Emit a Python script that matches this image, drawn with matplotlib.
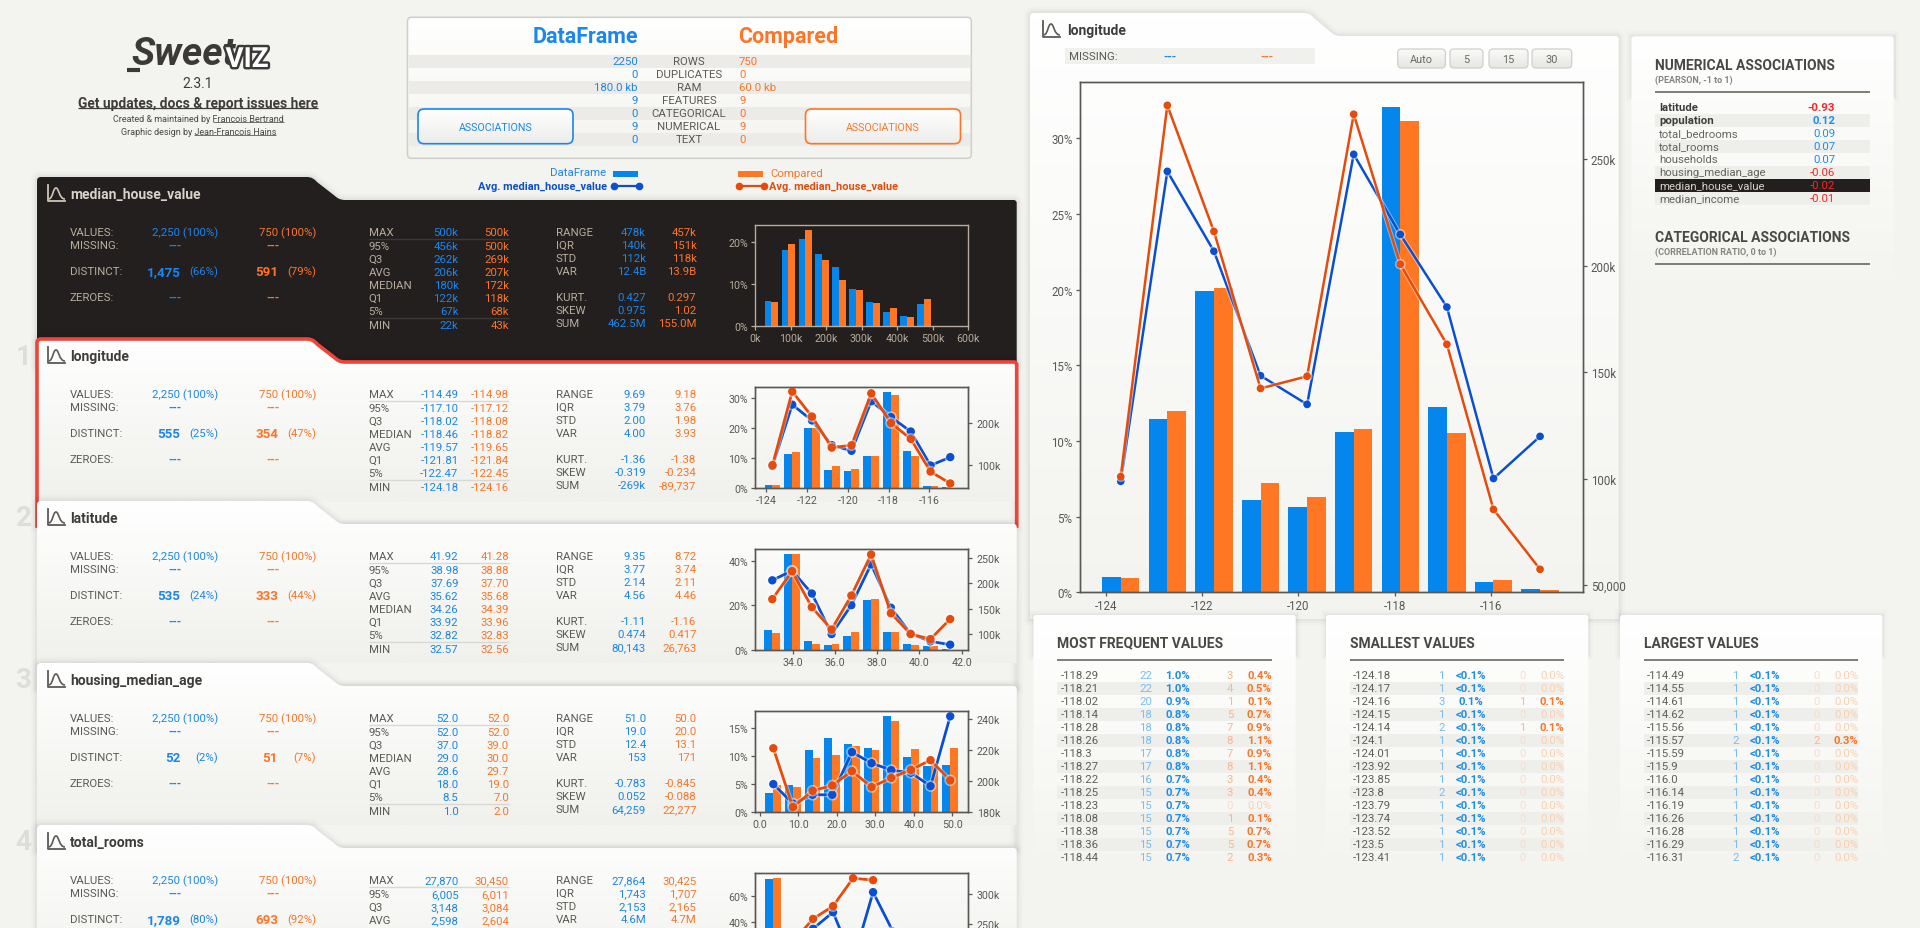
import numpy as np
import matplotlib
matplotlib.use("Agg")
import matplotlib.pyplot as plt
import matplotlib.patheffects as pe
from matplotlib.colors import LinearSegmentedColormap
from matplotlib.patches import FancyBboxPatch, PathPatch, Rectangle
from matplotlib.path import Path

FONT = ["Roboto", "DejaVu Sans"]
plt.rcParams["font.family"] = FONT

BG = "#f3f3ef"
BLUE = "#0586ec"
ORANGE = "#ff7722"
TXT_BLUE = "#1a86ee"
TXT_ORANGE = "#ff7426"
LINE_BLUE = "#0a4fd0"
LINE_ORANGE = "#e84a0a"
GREY = "#5c5a56"
DARK = "#221f1e"
TAN = "#b8ad9d"

# resumen de arriba
SUMMARY_LABELS = ["ROWS", "DUPLICATES", "RAM", "FEATURES", "CATEGORICAL", "NUMERICAL", "TEXT"]
SUMMARY_BLUE = ["2250", "0", "180.0 kb", "9", "0", "9", "0"]
SUMMARY_ORANGE = ["750", "0", "60.0 kb", "9", "0", "9", "0"]

# histogramas
HOUSE_RANGE = (22, 500)
HOUSE_BLUE = [5.96, 18.0, 20.5, 17.0, 14.0, 8.8, 5.7, 3.4, 2.4, 5.3]
HOUSE_ORANGE = [5.7, 19.4, 22.7, 15.6, 10.9, 8.5, 5.5, 4.3, 2.2, 6.4]

LON_RANGE = (-124.18, -114.49)
LON_BLUE = [1.01, 11.45, 19.9, 6.1, 5.64, 10.6, 32.1, 12.25, 0.68, 0.22]
LON_ORANGE = [0.95, 12.0, 20.1, 7.22, 6.3, 10.8, 31.15, 10.53, 0.81, 0.15]
LON_AVG_BLUE = [98.7, 244.2, 206.7, 148.3, 134.8, 252.2, 214.6, 180.5, 100.0, 119.8]
LON_AVG_ORANGE = [100.9, 275.2, 216.0, 142.3, 148.0, 271.0, 200.6, 163.0, 85.5, 57.4]

LAT_RANGE = (32.57, 41.92)
LAT_BLUE = [9.1, 43.1, 4.2, 2.4, 6.4, 22.5, 8.2, 2.8, 1.9, 0.6]
LAT_ORANGE = [7.8, 43.1, 2.8, 2.8, 8.2, 23.0, 8.2, 2.4, 1.9, 0.0]
LAT_AVG_BLUE = [206.0, 225.0, 180.0, 100.0, 157.0, 237.6, 152.0, 100.6, 85.6, 79.0]
LAT_AVG_ORANGE = [168.8, 223.8, 153.0, 109.0, 176.0, 257.0, 141.0, 100.0, 90.0, 129.5]

AGE_RANGE = (1, 52)
AGE_BLUE = [3.45, 4.9, 11.1, 13.3, 12.2, 11.5, 17.2, 9.9, 8.3, 8.45]
AGE_ORANGE = [4.9, 4.5, 9.7, 10.2, 11.85, 11.1, 16.3, 11.3, 8.8, 11.5]
AGE_AVG_BLUE = [198.0, 185.4, 191.1, 191.1, 218.6, 211.5, 207.0, 205.3, 196.7, 241.7]
AGE_AVG_ORANGE = [221.1, 183.2, 193.7, 197.1, 206.4, 196.1, 202.0, 207.2, 213.4, 200.4]

ROOMS_RANGE = (6, 27870)
ROOMS_BLUE = [73.3, 21.0, 3.6, 1.2, 0.4, 0.2, 0.1, 0.05, 0.05, 0.05]
ROOMS_ORANGE = [74.1, 20.5, 3.4, 1.0, 0.5, 0.2, 0.1, 0.1, 0.0, 0.0]
ROOMS_AVG_BLUE = [200.0, 215.0, 243.0, 270.0, 190.0, 302.7, 238.0]
ROOMS_AVG_ORANGE = [198.0, 222.0, 259.0, 279.9, 325.5, 322.3]

# columnas de estadisticas
STATS2_LABELS = ["RANGE", "IQR", "STD", "VAR", "KURT.", "SKEW", "SUM"]

HOUSE_LABELS = ["MAX", "95%", "Q3", "AVG", "MEDIAN", "Q1", "5%", "MIN"]
HOUSE_S1_B = ["500k", "456k", "262k", "206k", "180k", "122k", "67k", "22k"]
HOUSE_S1_O = ["500k", "500k", "269k", "207k", "172k", "118k", "68k", "43k"]
HOUSE_S2_B = ["478k", "140k", "112k", "12.4B", "0.427", "0.975", "462.5M"]
HOUSE_S2_O = ["457k", "151k", "118k", "13.9B", "0.297", "1.02", "155.0M"]

LON_LABELS = ["MAX", "95%", "Q3", "MEDIAN", "AVG", "Q1", "5%", "MIN"]
LON_S1_B = ["-114.49", "-117.10", "-118.02", "-118.46", "-119.57", "-121.81", "-122.47", "-124.18"]
LON_S1_O = ["-114.98", "-117.12", "-118.08", "-118.82", "-119.65", "-121.84", "-122.45", "-124.16"]
LON_S2_B = ["9.69", "3.79", "2.00", "4.00", "-1.36", "-0.319", "-269k"]
LON_S2_O = ["9.18", "3.76", "1.98", "3.93", "-1.38", "-0.234", "-89,737"]

LAT_LABELS = ["MAX", "95%", "Q3", "AVG", "MEDIAN", "Q1", "5%", "MIN"]
LAT_S1_B = ["41.92", "38.98", "37.69", "35.62", "34.26", "33.92", "32.82", "32.57"]
LAT_S1_O = ["41.28", "38.88", "37.70", "35.68", "34.39", "33.96", "32.83", "32.56"]
LAT_S2_B = ["9.35", "3.77", "2.14", "4.56", "-1.11", "0.474", "80,143"]
LAT_S2_O = ["8.72", "3.74", "2.11", "4.46", "-1.16", "0.417", "26,763"]

AGE_LABELS = ["MAX", "95%", "Q3", "MEDIAN", "AVG", "Q1", "5%", "MIN"]
AGE_S1_B = ["52.0", "52.0", "37.0", "29.0", "28.6", "18.0", "8.5", "1.0"]
AGE_S1_O = ["52.0", "52.0", "39.0", "30.0", "29.7", "19.0", "7.0", "2.0"]
AGE_S2_B = ["51.0", "19.0", "12.4", "153", "-0.783", "0.052", "64,259"]
AGE_S2_O = ["50.0", "20.0", "13.1", "171", "-0.845", "-0.088", "22,277"]

ROOMS_LABELS = ["MAX", "95%", "Q3", "AVG"]
ROOMS_S1_B = ["27,870", "6,005", "3,148", "2,598"]
ROOMS_S1_O = ["30,450", "6,011", "3,084", "2,604"]
ROOMS_S2_B = ["27,864", "1,743", "2,153", "4.6M"]
ROOMS_S2_O = ["30,425", "1,707", "2,165", "4.7M"]

# asociaciones
ASSOC_NAMES = ["latitude", "population", "total_bedrooms", "total_rooms", "households",
               "housing_median_age", "median_house_value", "median_income"]
ASSOC_VALUES = ["-0.93", "0.12", "0.09", "0.07", "0.07", "-0.06", "-0.02", "-0.01"]

# tablas de abajo
FREQ_VALUES = ["-118.29", "-118.21", "-118.02", "-118.14", "-118.28", "-118.26", "-118.3", "-118.27",
               "-118.22", "-118.25", "-118.23", "-118.08", "-118.38", "-118.36", "-118.44"]
FREQ_N1 = [22, 22, 20, 18, 18, 18, 17, 17, 16, 15, 15, 15, 15, 15, 15]
FREQ_P1 = ["1.0%", "1.0%", "0.9%", "0.8%", "0.8%", "0.8%", "0.8%", "0.8%",
           "0.7%", "0.7%", "0.7%", "0.7%", "0.7%", "0.7%", "0.7%"]
FREQ_N2 = [3, 4, 1, 5, 7, 8, 7, 8, 3, 3, 0, 1, 5, 5, 2]
FREQ_P2 = ["0.4%", "0.5%", "0.1%", "0.7%", "0.9%", "1.1%", "0.9%", "1.1%",
           "0.4%", "0.4%", "0.0%", "0.1%", "0.7%", "0.7%", "0.3%"]

SMALL_VALUES = ["-124.18", "-124.17", "-124.16", "-124.15", "-124.14", "-124.1", "-124.01", "-123.92",
                "-123.85", "-123.8", "-123.79", "-123.74", "-123.52", "-123.5", "-123.41"]
SMALL_N1 = [1, 1, 3, 1, 2, 1, 1, 1, 1, 2, 1, 1, 1, 1, 1]
SMALL_P1 = ["<0.1%", "<0.1%", "0.1%", "<0.1%", "<0.1%", "<0.1%", "<0.1%", "<0.1%",
            "<0.1%", "<0.1%", "<0.1%", "<0.1%", "<0.1%", "<0.1%", "<0.1%"]
SMALL_N2 = [0, 0, 1, 0, 1, 0, 0, 0, 0, 0, 0, 0, 0, 0, 0]
SMALL_P2 = ["0.0%", "0.0%", "0.1%", "0.0%", "0.1%", "0.0%", "0.0%", "0.0%",
            "0.0%", "0.0%", "0.0%", "0.0%", "0.0%", "0.0%", "0.0%"]

LARGE_VALUES = ["-114.49", "-114.55", "-114.61", "-114.62", "-115.56", "-115.57", "-115.59", "-115.9",
                "-116.0", "-116.14", "-116.19", "-116.26", "-116.28", "-116.29", "-116.31"]
LARGE_N1 = [1, 1, 1, 1, 1, 2, 1, 1, 1, 1, 1, 1, 1, 1, 2]
LARGE_P1 = ["<0.1%"] * 15
LARGE_N2 = [0, 0, 0, 0, 0, 2, 0, 0, 0, 0, 0, 0, 0, 0, 0]
LARGE_P2 = ["0.0%", "0.0%", "0.0%", "0.0%", "0.0%", "0.3%", "0.0%", "0.0%",
            "0.0%", "0.0%", "0.0%", "0.0%", "0.0%", "0.0%", "0.0%"]

W, H = 1920, 929
fig = plt.figure(figsize=(19.2, 9.29), dpi=100, facecolor=BG)
page = fig.add_axes([0, 0, 1, 1], zorder=0)
page.set_xlim(0, W)
page.set_ylim(H, 0)
page.axis("off")

capa = [1]


def z():
    capa[0] += 1
    return capa[0]


def texto(x, y, s, color=GREY, size=8.2, ha="left", weight="normal", family=None, **kw):
    return page.text(x, y, s, color=color, fontsize=size, ha=ha, va="center", fontweight=weight,
                     family=family or FONT, zorder=5000, **kw)


def linea(x0, x1, y, color=GREY, lw=1.0, zorder=4000):
    page.plot([x0, x1], [y, y], color=color, lw=lw, solid_capstyle="butt", zorder=zorder)


def banda(x0, x1, y0, y1, color="#ecebe7"):
    page.add_patch(Rectangle((x0, y0), x1 - x0, y1 - y0, facecolor=color, edgecolor="none", zorder=z()))


def degradado(patch, x0, x1, y0, y1, c0, c1):
    cmap = LinearSegmentedColormap.from_list("g", [c0, c1])
    orden = z()
    im = page.imshow(np.linspace(0, 1, 128)[:, None], extent=[x0, x1, y1, y0], cmap=cmap,
                     aspect="auto", zorder=orden, interpolation="bilinear")
    page.add_patch(patch)
    im.set_clip_path(patch)
    page.set_xlim(0, W)
    page.set_ylim(H, 0)


def forma_tab(x0, x1, top, bottom, tab=276, fin=306, alto=23):
    xt = x0 + tab
    xf = x0 + fin
    yb = top + alto
    v = [(x0, bottom), (x0, top + 4), (x0, top), (x0 + 4, top), (xt - 6, top), (xt, top), (xt + 4, top + 5),
         (xf - 8, yb - 4), (xf - 4, yb), (xf + 2, yb), (x1 - 3, yb), (x1, yb), (x1, yb + 3), (x1, bottom), (x0, bottom)]
    c = [Path.MOVETO, Path.LINETO, Path.CURVE3, Path.CURVE3, Path.LINETO, Path.CURVE3, Path.CURVE3,
         Path.LINETO, Path.CURVE3, Path.CURVE3, Path.LINETO, Path.CURVE3, Path.CURVE3, Path.LINETO, Path.CLOSEPOLY]
    return Path(v, c)


def sombra(camino):
    for lw, a in [(9, 0.012), (6, 0.018), (3, 0.03)]:
        page.add_patch(PathPatch(camino, facecolor="none", edgecolor="black", lw=lw, alpha=a, zorder=z()))


def icono(x, y, color=GREY):
    page.plot([x, x, x + 17], [y, y + 16, y + 16], color=color, lw=1.3, zorder=4000)
    v = [(x + 1, y + 14), (x + 5, y + 13), (x + 5, y + 3), (x + 8, y + 3), (x + 11, y + 3), (x + 11, y + 14), (x + 17, y + 14)]
    c = [Path.MOVETO, Path.CURVE4, Path.CURVE4, Path.CURVE4, Path.CURVE4, Path.CURVE4, Path.CURVE4]
    page.add_patch(PathPatch(Path(v, c), facecolor="none", edgecolor=color, lw=1.2, zorder=4000))


def grafico(px, rango, blue, orange, xlim, ylim, xticks, xlabels, yticks, ylabels,
            avg_blue=None, avg_orange=None, y2lim=None, y2ticks=None, y2labels=None,
            oscuro=False, lw=2.0, ms=5.0, size=7.7):
    x0, y0, x1, y1 = px
    rect = [x0 / W, 1 - y1 / H, (x1 - x0) / W, (y1 - y0) / H]
    ax = fig.add_axes(rect, zorder=10)
    ax.patch.set_alpha(0)
    color = TAN if oscuro else "#5a5855"
    paso = (rango[1] - rango[0]) / 10
    centros = [rango[0] + paso * (i + 0.5) for i in range(10)]
    ancho = paso * 0.4
    ax.bar([c - ancho / 2 for c in centros], blue, width=ancho, color=BLUE, zorder=2)
    ax.bar([c + ancho / 2 for c in centros], orange, width=ancho, color=ORANGE, zorder=2)
    ax.set_xlim(*xlim)
    ax.set_ylim(*ylim)
    ax.set_xticks(xticks)
    ax.set_xticklabels(xlabels)
    ax.set_yticks(yticks)
    ax.set_yticklabels(ylabels)
    ax.tick_params(colors=color, labelsize=size, length=3, width=0.9, pad=2)
    for s in ax.spines.values():
        s.set_color(color)
        s.set_linewidth(1.0)
    if avg_blue is not None:
        ax2 = ax.twinx()
        ax2.patch.set_alpha(0)
        halo = [pe.withStroke(linewidth=lw + 1.4, foreground="white", alpha=0.45)]
        ax2.plot(centros[:len(avg_blue)], avg_blue, color=LINE_BLUE, lw=lw, marker="o", ms=ms, path_effects=halo)
        ax2.plot(centros[:len(avg_orange)], avg_orange, color=LINE_ORANGE, lw=lw, marker="o", ms=ms, path_effects=halo)
        ax2.set_ylim(*y2lim)
        ax2.set_yticks(y2ticks)
        ax2.set_yticklabels(y2labels)
        ax2.tick_params(colors=color, labelsize=size, length=3, width=0.9, pad=3)
        for s in ax2.spines.values():
            s.set_color(color)
            s.set_linewidth(1.0)
    return ax


def tarjeta(top, nombre, numero, n1, p1, n2, p2, labels, s1b, s1o, s2b, s2o, oscuro=False, rojo=False):
    x0, x1 = 37, 1016.7
    camino = forma_tab(x0, x1, top, top + 187)
    sombra(camino)
    if oscuro:
        page.add_patch(PathPatch(camino, facecolor=DARK, edgecolor="none", zorder=z()))
    else:
        degradado(PathPatch(camino, facecolor="none", edgecolor="none"), x0, x1, top, top + 162, "#ffffff", "#f0f0ec")
    if rojo:
        page.add_patch(PathPatch(camino, facecolor="none", edgecolor="#f0443a", lw=2.6, zorder=z()))
    base = z()
    claro = TAN if oscuro else GREY
    if numero:
        texto(23.5, top + 17, numero, color="#dddddb", size=20, ha="center", weight="bold")
    icono(48, top + 8, color=claro if not oscuro else "#cfc6b8")
    texto(70, top + 17, nombre, color="#d8d2c8" if oscuro else "#3f3d3a", size=10, weight="bold")
    for lab, dy in zip(["VALUES:", "MISSING:", "DISTINCT:", "ZEROES:"], [55, 68, 94, 120]):
        texto(70, top + dy, lab, color=claro)
    texto(218, top + 55, "2,250 (100%)", color=TXT_BLUE, ha="right")
    texto(316, top + 55, "750 (100%)", color=TXT_ORANGE, ha="right")
    for dy in [68, 120]:
        texto(175.4, top + dy, "---", color=TXT_BLUE, ha="center", weight="bold")
        texto(273, top + dy, "---", color=TXT_ORANGE, ha="center", weight="bold")
    texto(180.5, top + 94.5, n1, color=TXT_BLUE, ha="right", size=9.6, weight="bold")
    texto(218, top + 94, p1, color=TXT_BLUE, ha="right")
    texto(278, top + 94.5, n2, color=TXT_ORANGE, ha="right", size=9.6, weight="bold")
    texto(316, top + 94, p2, color=TXT_ORANGE, ha="right")
    for lab, a, b, dy in zip(labels, s1b, s1o, [55, 69, 82, 95, 108, 121, 134, 148]):
        texto(368.6, top + dy, lab, color=claro)
        texto(458.5, top + dy, a, color=TXT_BLUE, ha="right")
        texto(509, top + dy, b, color=TXT_ORANGE, ha="right")
    sep = "#3c3835" if oscuro else "#d8d8d4"
    linea(368.6, 509, top + 62.3, color=sep, zorder=base)
    if len(labels) == 8:
        linea(368.6, 509, top + 141.3, color=sep, zorder=base)
    for lab, a, b, dy in zip(STATS2_LABELS, s2b, s2o, [55, 68, 81, 94, 120, 133, 146]):
        texto(556, top + dy, lab, color=claro)
        texto(646, top + dy, a, color=TXT_BLUE, ha="right")
        texto(696.5, top + dy, b, color=TXT_ORANGE, ha="right")


def tabla(x0, titulo, valores, n1, p1, n2, p2):
    top = 615.7
    rect = FancyBboxPatch((x0, top), 262.3, 262, boxstyle="round,pad=0,rounding_size=3", facecolor="none", edgecolor="none")
    for lw, a in [(7, 0.012), (4, 0.018), (2, 0.03)]:
        page.add_patch(Rectangle((x0, top), 262.3, 40, facecolor="none", edgecolor="black", lw=lw, alpha=a, zorder=z()))
    degradado(rect, x0, x0 + 262.3, top, top + 262, "#ffffff", BG)
    texto(x0 + 24, 643.7, titulo, color="#4a4845", size=10, weight="bold")
    linea(x0 + 24, x0 + 238.4, 661.3, lw=1.1)
    for i in range(15):
        y = 676 + 13 * i
        if i % 2 == 1:
            banda(x0 + 24, x0 + 238.4, y - 6.5, y + 6.5, color="#eeeeea")
        texto(x0 + 27, y, valores[i], color="#605e5a")
        texto(x0 + 118.6, y, str(n1[i]), color="#79bdf5", ha="right")
        texto(x0 + 144.5, y, p1[i], color="#1c8cf0", ha="center", weight="bold")
        activo = n2[i] > 0
        texto(x0 + 199.8, y, str(n2[i]), color="#ffb48a" if activo else "#fbdcc8", ha="right")
        texto(x0 + 226, y, p2[i], color="#ff7426" if activo else "#fbcfb0", ha="center", weight="bold" if activo else "normal")


# logo y enlaces
texto(131, 54.5, "Sweet", color="#3b3a38", size=28, weight="bold", style="italic")
linea(127, 140, 71, color="#3b3a38", lw=3)
texto(247, 60.5, "VIZ", color="white", size=20, ha="center", weight="bold",
      path_effects=[pe.withStroke(linewidth=3.5, foreground="#3b3a38")])
texto(198, 84, "2.3.1", size=10, ha="center", color="#3f3d3a")
texto(198, 103.7, "Get updates, docs & report issues here", size=9.9, ha="center", weight="bold", color="#3f3d3a")
linea(78, 318, 109.3, color="#3f3d3a", lw=0.9)
texto(198.7, 119, "Created & maintained by Francois Bertrand", size=6.5, ha="center", color="#4a4845")
linea(213, 284, 123, lw=0.6)
texto(198.5, 132, "Graphic design by Jean-Francois Hains", size=6.5, ha="center", color="#4a4845")
linea(194, 276, 136, lw=0.6)

# cuadro resumen
caja = FancyBboxPatch((407.5, 18.3), 563.8, 141, boxstyle="round,pad=0,rounding_size=4", facecolor="none", edgecolor="none")
degradado(caja, 407.5, 971.3, 18.3, 159.3, "#ffffff", "#f3f3ef")
page.add_patch(FancyBboxPatch((407.5, 18.3), 563.8, 141, boxstyle="round,pad=0,rounding_size=4",
                              facecolor="none", edgecolor="#cfcfc9", lw=1.1, zorder=z()))
texto(638, 37, "DataFrame", color=TXT_BLUE, size=15.5, ha="right", weight="bold")
texto(738.5, 37, "Compared", color=TXT_ORANGE, size=15.5, weight="bold")
for i, lab in enumerate(SUMMARY_LABELS):
    y = 62 + 13 * i
    if i % 2 == 0:
        banda(408.5, 970.3, y - 6.5, y + 6.5)
    texto(638, y, SUMMARY_BLUE[i], color=TXT_BLUE, ha="right")
    texto(689, y, lab, ha="center")
    texto(739, y, SUMMARY_ORANGE[i], color=TXT_ORANGE)
for bx, col in [(418, TXT_BLUE), (805.5, TXT_ORANGE)]:
    boton = FancyBboxPatch((bx, 110), 155, 34.7, boxstyle="round,pad=0,rounding_size=6", facecolor="none", edgecolor="none")
    degradado(boton, bx, bx + 155, 110, 144.7, "#ffffff", "#ececea")
    page.add_patch(FancyBboxPatch((bx, 110), 155, 34.7, boxstyle="round,pad=0,rounding_size=6",
                                  facecolor="none", edgecolor=col, lw=1.2, zorder=z()))
    texto(bx + 77.5, 127.5, "ASSOCIATIONS", color=col, size=7.7, ha="center")

# leyenda
texto(606, 173, "DataFrame", color=TXT_BLUE, ha="right")
banda(613, 638, 172, 178, color=BLUE)
texto(606.5, 186.5, "Avg. median_house_value", color=LINE_BLUE, ha="right", size=7.9, weight="bold")
page.plot([614, 639], [187, 187], color=LINE_BLUE, lw=1.6, marker="o", ms=4.5, zorder=4000)
banda(738, 763, 172, 178, color=ORANGE)
texto(770, 174, "Compared", color=TXT_ORANGE)
page.plot([739, 764], [187, 187], color=LINE_ORANGE, lw=1.6, marker="o", ms=4.5, zorder=4000)
texto(769, 186.5, "Avg. median_house_value", color=LINE_ORANGE, size=7.9, weight="bold")

# panel de detalle
camino_big = forma_tab(1030, 1618.7, 14, 620, tab=280, fin=308.6)
sombra(camino_big)
degradado(PathPatch(camino_big, facecolor="none", edgecolor="none"), 1030, 1618.7, 14, 620, "#ffffff", BG)
icono(1043, 22)
texto(1067, 31, "longitude", color="#3f3d3a", size=10, weight="bold")
banda(1065, 1314.5, 49, 65, color="#f0f0ec")
texto(1069, 57, "MISSING:")
texto(1170, 57, "---", color=TXT_BLUE, ha="center", weight="bold")
texto(1267, 57, "---", color=TXT_ORANGE, ha="center", weight="bold")
for bx0, bx1, lab in [(1397.7, 1445.4, "Auto"), (1450, 1483, "5"), (1489, 1528, "15"), (1532, 1571.7, "30")]:
    b = FancyBboxPatch((bx0, 50), bx1 - bx0, 19, boxstyle="round,pad=0,rounding_size=4", facecolor="none", edgecolor="none")
    degradado(b, bx0, bx1, 50, 69, "#fafaf8", "#e6e6e3")
    page.add_patch(FancyBboxPatch((bx0, 50), bx1 - bx0, 19, boxstyle="round,pad=0,rounding_size=4",
                                  facecolor="none", edgecolor="#cfcfcb", lw=0.9, zorder=z()))
    texto((bx0 + bx1) / 2, 59.7, lab, color="#6a6864", ha="center", size=7.8)

# panel de asociaciones
assoc = FancyBboxPatch((1631.4, 37.3), 262.3, 260, boxstyle="round,pad=0,rounding_size=3", facecolor="none", edgecolor="none")
for lw, a in [(7, 0.012), (4, 0.018), (2, 0.03)]:
    page.add_patch(Rectangle((1631.4, 37.3), 262.3, 60, facecolor="none", edgecolor="black", lw=lw, alpha=a, zorder=z()))
degradado(assoc, 1631.4, 1893.7, 37.3, 297.3, "#ffffff", BG)
texto(1655, 65.7, "NUMERICAL ASSOCIATIONS", color="#4a4845", size=10, weight="bold")
texto(1655, 80.7, "(PEARSON, -1 to 1)", color="#86847f", size=6.5, weight="bold")
linea(1655, 1870, 93.3, lw=1.1)
for i, nom in enumerate(ASSOC_NAMES):
    y = 108.3 + 13 * i
    if nom == "median_house_value":
        banda(1655, 1870, y - 6.5, y + 6.5, color=DARK)
    elif i % 2 == 1:
        banda(1655, 1870, y - 6.5, y + 6.5, color="#eeeeea")
    fuerte = i < 2
    col = "#ff2323" if ASSOC_VALUES[i].startswith("-") else "#1a8cf5"
    ctxt = "#d8d2c8" if nom == "median_house_value" else ("#3f3d3a" if fuerte else "#66645f")
    texto(1659, y, nom, color=ctxt, weight="bold" if fuerte else "normal")
    texto(1835, y, ASSOC_VALUES[i], color=col, ha="right", weight="bold" if fuerte else "normal")
texto(1655, 237.7, "CATEGORICAL ASSOCIATIONS", color="#4a4845", size=10, weight="bold")
texto(1655, 252.7, "(CORRELATION RATIO, 0 to 1)", color="#86847f", size=6.5, weight="bold")
linea(1655, 1870, 265.3, lw=1.1)

# tarjetas de variables
tarjeta(178, "median_house_value", "", "1,475", "(66%)", "591", "(79%)", HOUSE_LABELS,
        HOUSE_S1_B, HOUSE_S1_O, HOUSE_S2_B, HOUSE_S2_O, oscuro=True)
tarjeta(340, "longitude", "1", "555", "(25%)", "354", "(47%)", LON_LABELS,
        LON_S1_B, LON_S1_O, LON_S2_B, LON_S2_O, rojo=True)
tarjeta(502, "latitude", "2", "535", "(24%)", "333", "(44%)", LAT_LABELS,
        LAT_S1_B, LAT_S1_O, LAT_S2_B, LAT_S2_O)
tarjeta(664, "housing_median_age", "3", "52", "(2%)", "51", "(7%)", AGE_LABELS,
        AGE_S1_B, AGE_S1_O, AGE_S2_B, AGE_S2_O)
tarjeta(826, "total_rooms", "4", "1,789", "(80%)", "693", "(92%)", ROOMS_LABELS,
        ROOMS_S1_B, ROOMS_S1_O, ROOMS_S2_B, ROOMS_S2_O)

tabla(1033.4, "MOST FREQUENT VALUES", FREQ_VALUES, FREQ_N1, FREQ_P1, FREQ_N2, FREQ_P2)
tabla(1326, "SMALLEST VALUES", SMALL_VALUES, SMALL_N1, SMALL_P1, SMALL_N2, SMALL_P2)
tabla(1620, "LARGEST VALUES", LARGE_VALUES, LARGE_N1, LARGE_P1, LARGE_N2, LARGE_P2)

# graficos
ax = grafico((755, 226, 968.3, 327.3), HOUSE_RANGE, HOUSE_BLUE, HOUSE_ORANGE, (0, 600), (0, 23.9),
             [0, 100, 200, 300, 400, 500, 600], ["0k", "100k", "200k", "300k", "400k", "500k", "600k"],
             [0, 10, 20], ["0%", "10%", "20%"], oscuro=True)

LON_XT = [-124, -122, -120, -118, -116]
LON_XL = ["-124", "-122", "-120", "-118", "-116"]
LON_XLIM = (-124.553, -114.09)
LON_Y2 = (46.6, 286.0)
grafico((755, 388, 968.3, 489), LON_RANGE, LON_BLUE, LON_ORANGE, LON_XLIM, (0, 33.7), LON_XT, LON_XL,
        [0, 10, 20, 30], ["0%", "10%", "20%", "30%"], LON_AVG_BLUE, LON_AVG_ORANGE, LON_Y2, [100, 200], ["100k", "200k"])
grafico((755, 550, 968.3, 651), LAT_RANGE, LAT_BLUE, LAT_ORANGE, (32.22, 42.31), (0, 45.3),
        [34, 36, 38, 40, 42], ["34.0", "36.0", "38.0", "40.0", "42.0"], [0, 20, 40], ["0%", "20%", "40%"],
        LAT_AVG_BLUE, LAT_AVG_ORANGE, (68.5, 267.8), [100, 150, 200, 250], ["100k", "150k", "200k", "250k"])
grafico((755, 712, 968.3, 813), AGE_RANGE, AGE_BLUE, AGE_ORANGE, (-1.2, 54.15), (0, 18.1),
        [0, 10, 20, 30, 40, 50], ["0.0", "10.0", "20.0", "30.0", "40.0", "50.0"], [0, 5, 10, 15], ["0%", "5%", "10%", "15%"],
        AGE_AVG_BLUE, AGE_AVG_ORANGE, (180, 245.1), [180, 200, 220, 240], ["180k", "200k", "220k", "240k"])
grafico((755, 874, 968.3, 975), ROOMS_RANGE, ROOMS_BLUE, ROOMS_ORANGE, (-1110, 28590), (0, 78),
        [], [], [0, 20, 40, 60], ["0%", "20%", "40%", "60%"],
        ROOMS_AVG_BLUE, ROOMS_AVG_ORANGE, (169, 334), [250, 300], ["250k", "300k"])
grafico((1079.5, 83.3, 1582.6, 593.3), LON_RANGE, LON_BLUE, LON_ORANGE, LON_XLIM, (0, 33.7), LON_XT, LON_XL,
        [0, 5, 10, 15, 20, 25, 30], ["0%", "5%", "10%", "15%", "20%", "25%", "30%"],
        LON_AVG_BLUE, LON_AVG_ORANGE, LON_Y2, [50, 100, 150, 200, 250], ["50,000", "100k", "150k", "200k", "250k"],
        lw=1.8, ms=4.5, size=8.3)

fig.savefig("out.png", dpi=100, facecolor=BG)
